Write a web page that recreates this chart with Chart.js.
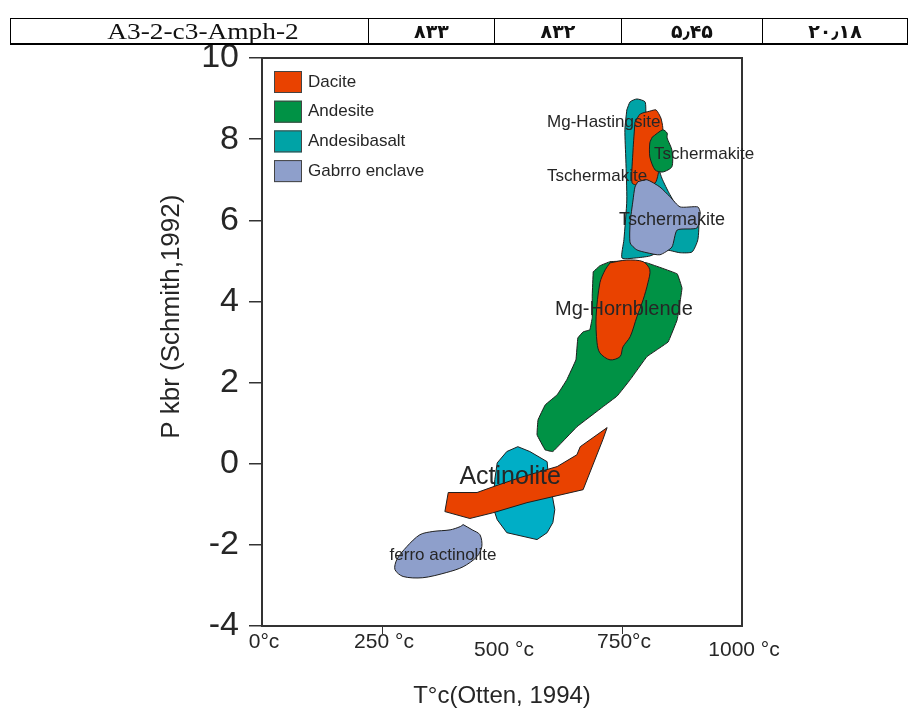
<!DOCTYPE html>
<html>
<head>
<meta charset="utf-8">
<script src="https://cdn.jsdelivr.net/npm/chart.js@4/dist/chart.umd.min.js"></script>
<style>
html,body{margin:0;padding:0;background:#fff;width:908px;height:711px;overflow:hidden;}
#c{position:absolute;left:0;top:0;}
table.hdr{position:absolute;left:10px;top:18px;border-collapse:collapse;table-layout:fixed;width:897px;color:#111;}
table.hdr td{border-left:1px solid #000;border-right:1px solid #000;border-top:1px solid #000;border-bottom:2px solid #000;height:24px;padding:0;text-align:center;line-height:24px;white-space:nowrap;overflow:hidden;}
table.hdr td:nth-child(1){width:357px;font-family:'Liberation Serif','Times New Roman',serif;font-size:24px;}
table.hdr td:nth-child(1) span{display:inline-block;transform:translateX(13px) scaleX(1.14);}
table.hdr td:nth-child(2){width:125px;}
table.hdr td:nth-child(3){width:126px;}
table.hdr td:nth-child(4){width:140px;}
table.hdr td:nth-child(5){width:144px;}
table.hdr td.fa{font-family:'DejaVu Sans','Noto Sans',sans-serif;font-weight:bold;font-size:19px;}
</style>
</head>
<body>
<canvas id="c" width="908" height="711"></canvas>
<table class="hdr"><tr id="hdrRow"></tr></table>
<script>
// ---------- header row (text) ----------
const headerCells = ['A3-2-c3-Amph-2', '۸۳۳', '۸۳۲', '۵٫۴۵', '۲۰٫۱۸'];

// ---------- axes ----------
const xTickValues = [0, 250, 500, 750, 1000];
const xTickLabels = ['0°c', '250 °c', '500 °c', '750°c', '1000 °c'];
const xTickMarks = [250, 750];
const yTickValues = [-4, -2, 0, 2, 4, 6, 8, 10];
const xTitle = 'T°c(Otten, 1994)';
const yTitle = 'P kbr (Schmith,1992)';

// ---------- legend categories ----------
const rockTypes = ['Dacite', 'Andesite', 'Andesibasalt', 'Gabrro enclave'];

// ---------- field outlines (T °C, P kbar) ----------
const andesibasaltUpper = [[760,8.72],[767,8.92],[781,8.99],[798,8.92],[800,8.6],[808,7.98],[821,7.49],[833,7.04],[850,6.63],[871,6.26],[902,6.26],[910,6.01],[908,5.52],[896,5.22],[871,5.2],[840,5.27],[808,5.12],[777,5.07],[750,5.07],[754,5.52],[760,6.5],[758,7.49],[756,8.23]];
const daciteUpper = [[777,8.42],[788,8.62],[808,8.69],[821,8.72],[831,8.52],[835,8.28],[833,7.73],[825,7.12],[819,6.92],[788,6.85],[771,6.92],[773,7.73]];
const andesiteUpper = [[813,8.05],[835,8.23],[844,8.15],[844,8.03],[854,7.73],[854,7.32],[835,7.19],[819,7.24],[808,7.56],[808,7.91]];
const gabbroUpper = [[783,6.95],[802,7.0],[829,6.82],[850,6.58],[871,6.33],[908,6.33],[913,6.18],[906,5.81],[865,5.76],[854,5.34],[829,5.15],[802,5.2],[781,5.27],[767,5.44],[767,5.94],[773,6.5],[777,6.82]];
const andesiteMiddle = [[690,4.73],[704,4.88],[725,4.98],[767,5.0],[802,4.95],[865,4.68],[875,4.33],[871,3.99],[865,3.55],[846,3.0],[802,2.64],[767,2.07],[740,1.67],[710,1.4],[656,0.91],[606,0.3],[590,0.34],[573,0.71],[575,1.08],[590,1.45],[615,1.7],[635,2.07],[654,2.56],[658,3.1],[669,3.25],[683,3.3],[688,3.6],[688,4.16]];
const daciteMiddle = [[725,4.95],[760,5.02],[794,4.98],[808,4.78],[804,4.46],[794,4.04],[781,3.62],[767,3.13],[752,2.88],[746,2.64],[725,2.56],[704,2.73],[698,2.98],[696,3.62],[704,4.46],[715,4.78]];
const andesibasaltLower = [[533,0.42],[558,0.3],[594,0.05],[596,-0.22],[610,-1.13],[606,-1.45],[594,-1.7],[573,-1.87],[510,-1.7],[490,-1.38],[481,-1.06],[485,-0.39],[490,0.02],[510,0.3]];
const daciteActinolite = [[381,-1.18],[388,-0.71],[448,-0.71],[481,-0.57],[538,-0.34],[615,-0.07],[656,0.22],[663,0.42],[719,0.89],[710,0.59],[669,-0.64],[552,-0.96],[481,-1.21],[433,-1.35]];
const gabbroLower = [[419,-1.5],[438,-1.63],[454,-1.75],[458,-2.04],[448,-2.29],[419,-2.54],[385,-2.68],[335,-2.81],[294,-2.78],[277,-2.61],[281,-2.36],[302,-2.04],[329,-1.75],[356,-1.67],[392,-1.63],[413,-1.55]];

// ---------- field names written on the plot ----------
const annotationTexts = ['Mg-Hastingsite', 'Tschermakite', 'Tschermakite', 'Tschermakite', 'Mg-Hornblende', 'Actinolite', 'ferro actinolite'];
const annotationX = [712, 698, 921, 854, 754, 517, 377];
const annotationY = [8.42, 7.08, 7.62, 6.01, 3.79, -0.34, -2.27];

// ================= styling & assembly =================
const FONT = "'Liberation Sans', Arial, Helvetica, sans-serif";
const TEXT = '#262626';
const rockColors = {
  'Dacite': '#E94200',
  'Andesite': '#009245',
  'Andesibasalt': '#00A3A6',
  'Gabrro enclave': '#8E9FCB'
};
const annotationSizes = [17, 17, 17, 18, 20, 25, 17];

const row = document.getElementById('hdrRow');
headerCells.forEach((t, i) => {
  const td = document.createElement('td');
  if (i > 0) {
    td.className = 'fa';
    td.textContent = t;
  } else {
    const sp = document.createElement('span');
    sp.textContent = t;
    td.appendChild(sp);
  }
  row.appendChild(td);
});

function field(label, pts, rock, color, layer, tension) {
  const data = pts.map(p => ({x: p[0], y: p[1]}));
  data.push({x: pts[0][0], y: pts[0][1]});
  return {
    label: label, rock: rock, data: data,
    fill: 'shape', backgroundColor: color,
    borderColor: '#1e1e1e', borderWidth: 1,
    pointRadius: 0, pointHoverRadius: 0,
    tension: tension, order: layer
  };
}

const datasets = [
  field('Andesibasalt upper', andesibasaltUpper, 'Andesibasalt', rockColors['Andesibasalt'], 9, 0.2),
  field('Dacite upper', daciteUpper, 'Dacite', rockColors['Dacite'], 8, 0.2),
  field('Andesite upper', andesiteUpper, 'Andesite', rockColors['Andesite'], 7, 0.25),
  field('Gabbro upper', gabbroUpper, 'Gabrro enclave', rockColors['Gabrro enclave'], 6, 0.2),
  field('Andesite middle', andesiteMiddle, 'Andesite', rockColors['Andesite'], 5, 0.05),
  field('Dacite middle', daciteMiddle, 'Dacite', rockColors['Dacite'], 4, 0.3),
  field('Andesibasalt lower', andesibasaltLower, 'Andesibasalt', '#00AEC6', 3, 0),
  field('Dacite actinolite', daciteActinolite, 'Dacite', rockColors['Dacite'], 2, 0),
  field('Gabbro lower', gabbroLower, 'Gabrro enclave', rockColors['Gabrro enclave'], 1, 0.3)
];

const framePlugin = {
  id: 'frame',
  beforeDatasetsDraw(chart) {
    const {ctx, chartArea: a} = chart;
    ctx.save();
    ctx.strokeStyle = '#333';
    ctx.lineWidth = 2;
    ctx.strokeRect(a.left, a.top, a.right - a.left, a.bottom - a.top);
    ctx.restore();
  }
};

const labelPlugin = {
  id: 'fieldLabels',
  afterDatasetsDraw(chart) {
    const {ctx, chartArea: a} = chart;
    const xs = chart.scales.x, ys = chart.scales.y;
    ctx.save();
    ctx.fillStyle = TEXT;
    ctx.textAlign = 'center';
    ctx.textBaseline = 'middle';
    annotationTexts.forEach((t, i) => {
      ctx.font = annotationSizes[i] + 'px ' + FONT;
      ctx.fillText(t, xs.getPixelForValue(annotationX[i]), ys.getPixelForValue(annotationY[i]));
    });
    // legend inside the plot area
    rockTypes.forEach((r, i) => {
      const bx = a.left + 12, by = a.top + 13 + i * 29.7;
      ctx.fillStyle = rockColors[r];
      ctx.fillRect(bx, by, 28, 22);
      ctx.strokeStyle = '#444';
      ctx.lineWidth = 1;
      ctx.strokeRect(bx + 0.5, by + 0.5, 27, 21);
      ctx.fillStyle = TEXT;
      ctx.textAlign = 'left';
      ctx.font = '17px ' + FONT;
      ctx.fillText(r, bx + 34, by + 11);
    });
    ctx.restore();
  }
};

new Chart(document.getElementById('c'), {
  type: 'line',
  data: {datasets: datasets},
  options: {
    responsive: false,
    animation: false,
    devicePixelRatio: 1,
    layout: {padding: {left: 0, top: 58, right: 166, bottom: 0}},
    plugins: {
      legend: {display: false},
      tooltip: {enabled: false}
    },
    scales: {
      x: {
        type: 'linear', min: 0, max: 1000,
        afterBuildTicks: s => { s.ticks = xTickValues.map(v => ({value: v})); },
        afterFit: s => { s.height = 85; },
        ticks: {
          autoSkip: false, maxRotation: 0, padding: -4, labelOffset: 2, color: TEXT,
          callback: v => xTickLabels[xTickValues.indexOf(v)],
          font: c => ({family: FONT, size: 21, lineHeight: (c.index === 2 || c.index === 4) ? '40px' : '24px'})
        },
        grid: {
          drawOnChartArea: false, drawTicks: true, tickLength: 8, lineWidth: 1,
          color: c => (c.tick && xTickMarks.indexOf(c.tick.value) >= 0) ? '#333' : 'rgba(0,0,0,0)'
        },
        border: {display: true, color: '#333', width: 2},
        title: {display: true, text: xTitle, color: TEXT, font: {family: FONT, size: 24}, padding: {top: 0, bottom: 0}}
      },
      y: {
        type: 'linear', min: -4, max: 10,
        afterBuildTicks: s => { s.ticks = yTickValues.map(v => ({value: v})); },
        afterFit: s => { s.width = 262; },
        ticks: {color: TEXT, padding: 10, font: {family: FONT, size: 34}},
        grid: {drawOnChartArea: false, drawTicks: true, tickLength: 13, color: '#333', lineWidth: 1.5},
        border: {display: true, color: '#333', width: 2},
        title: {display: true, text: '       ' + yTitle, color: TEXT, font: {family: FONT, size: 26}, padding: {top: 156, bottom: 0}}
      }
    }
  },
  plugins: [framePlugin, labelPlugin]
});
</script>
</body>
</html>
